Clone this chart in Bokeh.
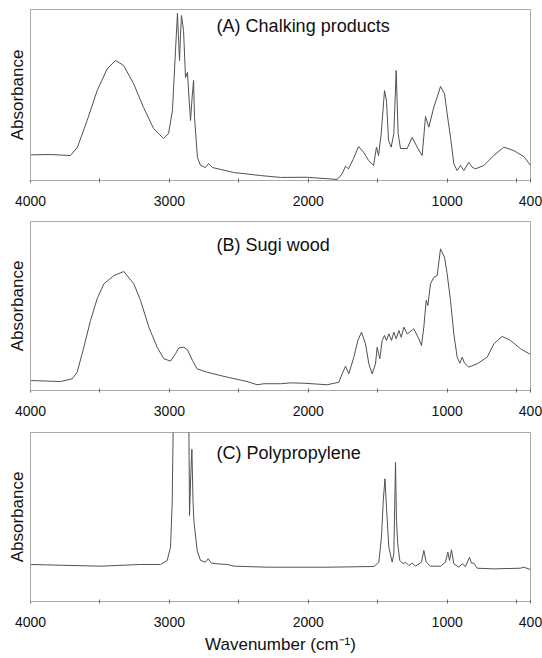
from bokeh.plotting import figure
from bokeh.models import Range1d, FixedTicker, Label
from bokeh.layouts import column
from bokeh.embed import file_html
from bokeh.resources import INLINE

# ---------------- data ----------------
# absorbance in relative units (0 = bottom of panel, 1 = top of panel)
wn_a = [4000, 3860, 3712, 3662, 3592, 3520, 3448, 3388, 3330, 3258, 3186, 3114, 3042, 3006,
        2978, 2956, 2942, 2935, 2927, 2920, 2913, 2898, 2884, 2870, 2860, 2848, 2835, 2826,
        2819, 2798, 2776, 2740, 2718, 2690, 2538, 2344, 2200, 2008, 1792, 1756, 1732, 1710,
        1674, 1638, 1602, 1566, 1530, 1509, 1494, 1475, 1451, 1437, 1422, 1403, 1384, 1367,
        1353, 1336, 1288, 1252, 1216, 1180, 1156, 1132, 1096, 1072, 1048, 1019, 1000, 976,
        952, 928, 904, 880, 844, 820, 796, 736, 664, 592, 520, 448, 400]
abs_a = [0.150, 0.152, 0.146, 0.195, 0.351, 0.526, 0.653, 0.702, 0.673, 0.567, 0.427, 0.304,
         0.246, 0.275, 0.409, 0.760, 0.977, 0.850, 0.702, 0.850, 0.965, 0.877, 0.602, 0.632,
         0.500, 0.351, 0.500, 0.585, 0.368, 0.135, 0.088, 0.076, 0.099, 0.076, 0.047, 0.029,
         0.018, 0.019, 0.006, 0.039, 0.084, 0.068, 0.129, 0.199, 0.165, 0.117, 0.088, 0.195,
         0.146, 0.273, 0.526, 0.468, 0.234, 0.195, 0.275, 0.643, 0.275, 0.187, 0.187, 0.253,
         0.195, 0.146, 0.374, 0.312, 0.429, 0.487, 0.550, 0.507, 0.390, 0.253, 0.098, 0.058,
         0.088, 0.058, 0.107, 0.078, 0.068, 0.088, 0.146, 0.195, 0.175, 0.140, 0.088]

wn_b = [4000, 3784, 3700, 3664, 3616, 3568, 3520, 3472, 3400, 3328, 3256, 3208, 3148, 3088,
        3040, 2992, 2956, 2932, 2896, 2870, 2834, 2800, 2728, 2584, 2440, 2368, 2320, 2200,
        2128, 2032, 1864, 1780, 1756, 1732, 1708, 1672, 1643, 1617, 1588, 1564, 1540, 1516,
        1504, 1485, 1468, 1451, 1437, 1420, 1401, 1384, 1367, 1348, 1331, 1312, 1288, 1240,
        1204, 1185, 1168, 1151, 1139, 1120, 1096, 1072, 1048, 1019, 1000, 976, 952, 928,
        909, 892, 875, 844, 784, 712, 664, 604, 544, 472, 400]
abs_b = [0.059, 0.053, 0.069, 0.108, 0.256, 0.414, 0.543, 0.631, 0.680, 0.704, 0.631, 0.533,
         0.375, 0.256, 0.188, 0.174, 0.217, 0.253, 0.256, 0.241, 0.178, 0.128, 0.108, 0.079,
         0.053, 0.034, 0.040, 0.040, 0.045, 0.043, 0.034, 0.049, 0.099, 0.144, 0.099, 0.197,
         0.296, 0.345, 0.276, 0.158, 0.099, 0.158, 0.256, 0.188, 0.296, 0.325, 0.296, 0.335,
         0.296, 0.345, 0.306, 0.355, 0.315, 0.375, 0.335, 0.365, 0.306, 0.266, 0.375, 0.533,
         0.503, 0.631, 0.670, 0.680, 0.838, 0.789, 0.690, 0.533, 0.335, 0.197, 0.162, 0.197,
         0.162, 0.138, 0.158, 0.197, 0.276, 0.320, 0.296, 0.247, 0.213]

wn_c = [4000, 3496, 3208, 3064, 3016, 2992, 2980, 2968, 2955, 2870, 2862, 2855, 2846, 2838,
        2830, 2824, 2800, 2776, 2740, 2720, 2698, 2654, 2582, 2534, 2294, 1864, 1528, 1492,
        1473, 1460, 1448, 1437, 1420, 1396, 1384, 1372, 1365, 1356, 1341, 1317, 1300, 1276,
        1252, 1228, 1185, 1168, 1151, 1120, 1048, 1012, 995, 983, 969, 952, 916, 892, 868,
        839, 825, 808, 784, 664, 472, 448, 400]
abs_c = [0.219, 0.209, 0.219, 0.219, 0.243, 0.321, 0.578, 1.300, 1.300, 1.300, 1.300, 0.509,
         0.750, 0.900, 0.600, 0.479, 0.302, 0.243, 0.233, 0.253, 0.227, 0.223, 0.219, 0.209,
         0.203, 0.203, 0.207, 0.233, 0.380, 0.598, 0.726, 0.558, 0.321, 0.233, 0.282, 0.824,
         0.479, 0.341, 0.243, 0.223, 0.233, 0.213, 0.227, 0.209, 0.233, 0.302, 0.233, 0.209,
         0.209, 0.233, 0.292, 0.243, 0.306, 0.223, 0.203, 0.223, 0.207, 0.262, 0.227, 0.227,
         0.197, 0.193, 0.197, 0.203, 0.189]

panel_titles = ["(A) Chalking products", "(B) Sugi wood", "(C) Polypropylene"]
major_ticks = [4000, 3000, 2000, 1000, 400]
minor_ticks = [3500, 2500, 1500, 500]
y_label = "Absorbance"
x_label = "Wavenumber (cm\u207b\u00b9)"

# ---------------- style ----------------
FONT = "Liberation Sans"
FRAME = "#aaaaaa"
LINE = "#505050"
W = 542


def panel(wn, ab, title, height, top, bottom, title_y, show_xlabel=False):
    p = figure(width=W, height=height, output_backend="svg", toolbar_location=None,
               x_range=Range1d(4000, 400), y_range=Range1d(0, 1),
               min_border_left=30, min_border_right=12,
               min_border_top=top, min_border_bottom=bottom)
    p.xgrid.visible = False
    p.ygrid.visible = False
    p.background_fill_color = "white"
    p.border_fill_color = "white"
    p.outline_line_color = FRAME
    p.outline_line_width = 1

    xa = p.xaxis[0]
    xa.ticker = FixedTicker(ticks=major_ticks, minor_ticks=minor_ticks)
    xa.axis_line_color = FRAME
    xa.major_tick_line_color = "#666666"
    xa.minor_tick_line_color = "#666666"
    xa.major_tick_in = 2
    xa.major_tick_out = 2
    xa.minor_tick_in = 2
    xa.minor_tick_out = 2
    xa.major_label_standoff = 13
    xa.major_label_text_font = FONT
    xa.major_label_text_font_size = "14px"
    xa.major_label_text_color = "#111111"
    if show_xlabel:
        xa.axis_label = x_label
        xa.axis_label_standoff = 5
        xa.axis_label_text_font = FONT
        xa.axis_label_text_font_size = "17px"
        xa.axis_label_text_font_style = "normal"
        xa.axis_label_text_color = "#111111"

    ya = p.yaxis[0]
    ya.ticker = FixedTicker(ticks=[])
    ya.axis_line_color = FRAME
    ya.major_tick_in = 0
    ya.major_tick_out = 0
    ya.minor_tick_line_color = None
    ya.axis_label = y_label
    ya.axis_label_standoff = 4
    ya.axis_label_text_font = FONT
    ya.axis_label_text_font_size = "17px"
    ya.axis_label_text_font_style = "normal"
    ya.axis_label_text_color = "#111111"

    p.line(wn, ab, line_color=LINE, line_width=1)
    p.add_layout(Label(x=2660, y=title_y, text=title, text_font=FONT,
                       text_font_size="18px", text_color="#111111",
                       text_baseline="middle", text_align="left"))
    return p


pa = panel(wn_a, abs_a, panel_titles[0], 213, 9, 33, 0.903)
pb = panel(wn_b, abs_b, panel_titles[1], 211, 8, 34, 0.858)
pc = panel(wn_c, abs_c, panel_titles[2], 234, 8, 57, 0.88, show_xlabel=True)

layout = column(pa, pb, pc, spacing=0)
open("out.html", "w").write(file_html(layout, INLINE))
